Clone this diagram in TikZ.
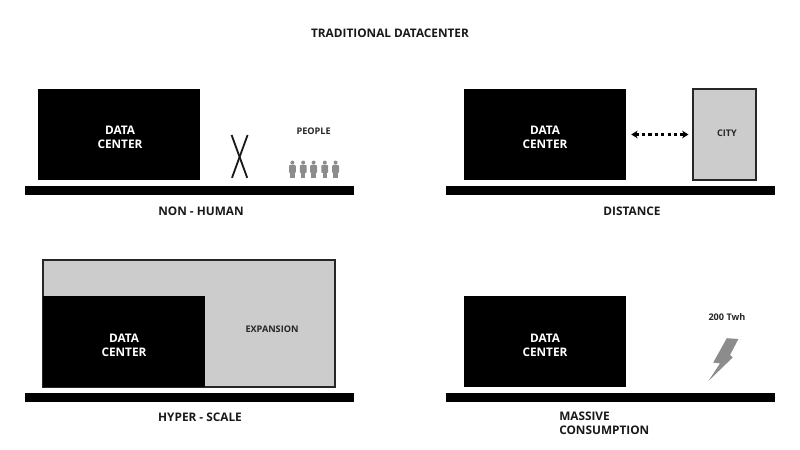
\documentclass[tikz,border=0pt]{standalone}
\usepackage{fontspec}
\setmainfont{Open Sans}
\usetikzlibrary{arrows.meta}
\definecolor{lightfill}{RGB}{204,204,204}
\definecolor{iconfill}{RGB}{140,140,140}
\tikzset{
  datacenter/.style={fill=black, draw=none, minimum width=4.05cm, minimum height=2.275cm, inner sep=0pt},
  dctext/.style={align=center, text=white, inner sep=0pt, font=\fontsize{8.4}{10}\selectfont\bfseries},
  ground/.style={fill=black, draw=none, minimum width=8.225cm, minimum height=0.225cm, inner sep=0pt},
  grayarea/.style={fill=lightfill, draw=black!85, line width=0.8pt, inner sep=0pt},
  caption/.style={font=\fontsize{8.4}{9.8}\selectfont\bfseries, text=black!90, inner sep=0pt, align=left},
  small/.style={font=\fontsize{6.5}{8}\selectfont\bfseries, text=black!85, inner sep=0pt},
  person/.style={fill=iconfill, draw=none}
}
\begin{document}
\begin{tikzpicture}[x=1cm,y=1cm]
\useasboundingbox (0,0) rectangle (20,11.225);

\node[caption] (title) at (9.75,10.4) {TRADITIONAL DATACENTER};

\node[datacenter] (dcone) at (2.975,7.8625) {};
\node[dctext] (dconetext) at (3.0,7.8) {DATA\\CENTER};
\node[ground] (groundone) at (4.7375,6.4625) {};
\node[caption] (capone) at (5.025,5.95) {NON - HUMAN};
\node[small] (people) at (7.84,7.95) {PEOPLE};
\coordinate (xa) at (5.79,7.85);
\coordinate (xb) at (6.18,6.78);
\coordinate (xc) at (6.19,7.85);
\coordinate (xd) at (5.8,6.78);
\draw[line width=1.3pt, black!90] (xa) -- (xb);
\draw[line width=1.3pt, black!90] (xc) -- (xd);
\foreach \px in {7.31,7.58,7.84,8.12,8.39}{
  \fill[person] (\px,7.16) circle (0.05);
  \fill[person, rounded corners=0.6pt] (\px-0.085,7.1) rectangle (\px+0.085,6.9);
  \fill[person] (\px-0.055,6.95) rectangle (\px+0.055,6.78);
}

\node[datacenter] (dctwo) at (13.625,7.8625) {};
\node[dctext] (dctwotext) at (13.625,7.8) {DATA\\CENTER};
\node[grayarea, minimum width=1.575cm, minimum height=2.275cm] (city) at (18.1125,7.8625) {};
\node[small] (citylabel) at (18.175,7.9) {CITY};
\node[ground] (groundtwo) at (15.2625,6.4625) {};
\node[caption] (captwo) at (15.8,5.95) {DISTANCE};
\draw[{Stealth[length=4.5pt,width=5.5pt]}-{Stealth[length=4.5pt,width=5.5pt]}, line width=2pt, dash pattern=on 2.4pt off 2.2pt, shorten <=0.125cm, shorten >=0.1cm] (dctwo.east) -- (city.west);

\node[grayarea, minimum width=7.3cm, minimum height=3.175cm] (expansion) at (4.725,3.1375) {};
\node[datacenter] (dcthree) at (3.1,2.6875) {};
\node[dctext] (dcthreetext) at (3.1,2.6) {DATA\\CENTER};
\node[small] (explabel) at (6.8,3.0) {EXPANSION};
\node[ground] (groundthree) at (4.7375,1.2875) {};
\node[caption] (capthree) at (5.0,0.8) {HYPER - SCALE};

\node[datacenter] (dcfour) at (13.625,2.6875) {};
\node[dctext] (dcfourtext) at (13.625,2.6) {DATA\\CENTER};
\node[small] (twh) at (18.175,3.3) {200 Twh};
\fill[iconfill] (18.17,2.77) -- (18.46,2.75) -- (18.25,2.35) -- (18.32,2.29) -- (17.71,1.7) -- (18.0,2.14) -- (17.83,2.16) -- cycle;
\node[ground] (groundfour) at (15.2625,1.2875) {};
\node[caption, text width=3cm, anchor=north west] (capfour) at (13.975,0.93) {MASSIVE\\CONSUMPTION};
\end{tikzpicture}
\end{document}
